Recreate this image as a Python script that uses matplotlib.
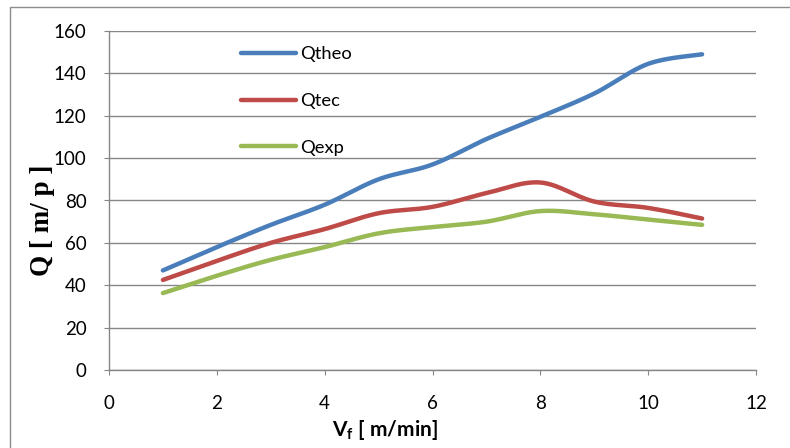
import numpy as np
import matplotlib
matplotlib.use("Agg")
import matplotlib.pyplot as plt
from matplotlib.patches import Rectangle

# Feed speed [m/min]
vf = [1, 2, 3, 4, 5, 6, 7, 8, 9, 10, 11]
# Flow rates
q_theo = [47, 58, 68.5, 78, 90, 97, 109, 119.5, 130.5, 144.5, 149]
q_tec = [42.5, 51.5, 60, 66.5, 74, 77, 83.5, 88.5, 79.5, 76.5, 71.5]
q_exp = [36.3, 44.5, 52, 58, 64.5, 67.5, 70, 75, 73.5, 71, 68.5]

series_names = ["Qtheo", "Qtec", "Qexp"]
series_colors = ["#4A7EBB", "#BE4B48", "#98B954"]

x_ticks = [0, 2, 4, 6, 8, 10, 12]
y_ticks = [0, 20, 40, 60, 80, 100, 120, 140, 160]


def smooth(xs, ys, n=30, tension=1 / 6):
    """Cubic Bezier smoothing through the points (spreadsheet-style)."""
    xs = np.asarray(xs, float)
    ys = np.asarray(ys, float)
    px = np.concatenate([[xs[0]], xs, [xs[-1]]])
    py = np.concatenate([[ys[0]], ys, [ys[-1]]])
    out_x, out_y = [], []
    t = np.linspace(0, 1, n)
    for i in range(1, len(px) - 2):
        p0 = np.array([px[i], py[i]])
        p3 = np.array([px[i + 1], py[i + 1]])
        c1 = p0 + tension * (np.array([px[i + 1], py[i + 1]]) - np.array([px[i - 1], py[i - 1]]))
        c2 = p3 - tension * (np.array([px[i + 2], py[i + 2]]) - np.array([px[i], py[i]]))
        b = ((1 - t) ** 3)[:, None] * p0 + (3 * (1 - t) ** 2 * t)[:, None] * c1 \
            + (3 * (1 - t) * t ** 2)[:, None] * c2 + (t ** 3)[:, None] * p3
        if i > 1:
            b = b[1:]
        out_x.extend(b[:, 0])
        out_y.extend(b[:, 1])
    return np.array(out_x), np.array(out_y)


plt.rcParams["font.family"] = ["Lato", "DejaVu Sans"]
plt.rcParams["mathtext.fontset"] = "custom"
plt.rcParams["mathtext.rm"] = "Lato"
plt.rcParams["mathtext.bf"] = "Lato:bold"

fig = plt.figure(figsize=(7.9, 4.48), dpi=100)
fig.patches.append(Rectangle((10 / 790, -0.05), 1.1, 1 - 7 / 448 + 0.05,
                             transform=fig.transFigure, fill=False,
                             edgecolor="#8c8c8c", linewidth=1.0))

ax = fig.add_axes([109 / 790, 78 / 448, 647 / 790, 339 / 448])

for ys, name, col in zip([q_theo, q_tec, q_exp], series_names, series_colors):
    sx, sy = smooth(vf, ys)
    ax.plot(sx, sy, color=col, linewidth=3.2, solid_capstyle="round", label=name)

ax.set_xlim(0, 12)
ax.set_ylim(0, 160)
ax.set_xticks(x_ticks)
ax.set_yticks(y_ticks)
ax.yaxis.grid(True, color="#868686", linewidth=1.0)
ax.set_axisbelow(True)

for side in ["top", "right"]:
    ax.spines[side].set_visible(False)
for side in ["left", "bottom"]:
    ax.spines[side].set_color("#868686")
    ax.spines[side].set_linewidth(1.0)

ax.tick_params(axis="both", direction="out", length=3.6, color="#868686",
               labelsize=13.5, labelcolor="black")
ax.tick_params(axis="x", pad=14.5)
ax.tick_params(axis="y", pad=12.5)

ax.set_xlabel("V$_\\mathbf{f}$ [ m/min]", fontsize=15, fontweight="bold")
ax.xaxis.set_label_coords(0.4266, -0.141)
ax.set_ylabel("Q [ m/ p ]", fontsize=19.5, fontweight="bold",
              family=["Liberation Serif", "DejaVu Serif"])
ax.yaxis.set_label_coords(-0.0835, 0.4425)

leg = ax.legend(loc="upper left", bbox_to_anchor=(0.178, 1.004), frameon=False,
                fontsize=13.2, handlelength=3.0, handletextpad=0.22,
                labelspacing=1.68)

fig.savefig("out.png", dpi=100)
